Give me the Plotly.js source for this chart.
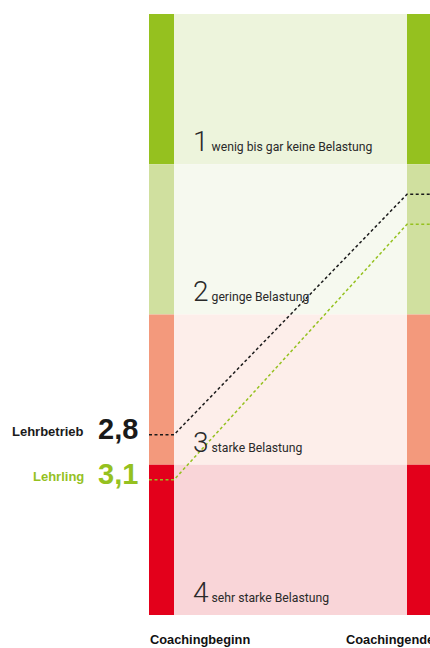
<!DOCTYPE html>
<html>
<head>
<meta charset="utf-8">
<script src="https://cdn.plot.ly/plotly-3.0.1.min.js"></script>
<style>html,body{margin:0;padding:0;background:#fff;}#chart{width:430px;height:648px;}</style>
</head>
<body>
<div id="chart"></div>
<script>
// Data
const stages = ['Coachingbeginn', 'Coachingende'];
const seriesNames = ['Lehrbetrieb', 'Lehrling'];
const startValues = [2.8, 3.1];
const endValues = [1.2, 1.4];
const startLabels = ['2,8', '3,1'];
const levels = [1, 2, 3, 4];
const levelLabels = ['wenig bis gar keine Belastung', 'geringe Belastung', 'starke Belastung', 'sehr starke Belastung'];

// Styles
const seriesColors = ['#1a1a1a', '#95c11f'];
const barColors = ['#95c11f', '#d0e09f', '#f3997c', '#e3001b'];
const fillColors = ['#edf4dc', '#f6f9ef', '#fdeeea', '#f9d5d8'];
const xMin = -25 / 233, xMax = 1 + 23 / 233;
const plotLeft = 149, plotW = 281;
const px = p => (p - plotLeft) / plotW;
const bold = 'Liberation Sans Narrow, Liberation Sans, Arial, sans-serif';

const traces = seriesNames.map((n, i) => ({
  type: 'scatter', mode: 'lines', name: n,
  x: [xMin, 0, 1, xMax],
  y: [startValues[i], startValues[i], endValues[i], endValues[i]],
  line: { color: seriesColors[i], width: 1.5, dash: '3px,2.5px' },
  hoverinfo: 'skip', showlegend: false, cliponaxis: false
}));

const shapes = [];
levels.forEach((lv, i) => {
  const y0 = lv - 1, y1 = lv;
  shapes.push({ type: 'rect', xref: 'x', yref: 'y', x0: 0, x1: 1, y0, y1, fillcolor: fillColors[i], line: { width: 0 }, layer: 'below' });
  shapes.push({ type: 'rect', xref: 'x', yref: 'y', x0: xMin, x1: 0, y0, y1, fillcolor: barColors[i], line: { width: 0 }, layer: 'below' });
  shapes.push({ type: 'rect', xref: 'x', yref: 'y', x0: 1, x1: xMax, y0, y1, fillcolor: barColors[i], line: { width: 0 }, layer: 'below' });
});

const annotations = [];
levels.forEach((lv, i) => {
  annotations.push({
    xref: 'x', yref: 'y', x: 0.072, y: lv - 0.15, xanchor: 'left', yanchor: 'middle', showarrow: false,
    text: '<span style="font-size:28px;font-family:Roboto;font-weight:300">' + lv + '</span> ' + levelLabels[i],
    font: { family: 'Roboto, sans-serif', size: 12.2, color: '#2a2a2a' }
  });
});
seriesNames.forEach((n, i) => {
  annotations.push({
    xref: 'paper', yref: 'y', x: px(86), y: startValues[i] - 0.02, xanchor: 'right', yanchor: 'middle', showarrow: false,
    text: '<b>' + n + '</b>', font: { family: bold, size: 13, color: seriesColors[i] }
  });
  annotations.push({
    xref: 'paper', yref: 'y', x: px(96), y: startValues[i] - 0.04, xanchor: 'left', yanchor: 'middle', showarrow: false,
    text: '<b>' + startLabels[i] + '</b>', font: { family: bold, size: 29, color: seriesColors[i] }
  });
});
const stageX = [px(148), px(344)];
stages.forEach((s, i) => {
  annotations.push({
    xref: 'paper', yref: 'paper', x: stageX[i], y: -24 / 601, xanchor: 'left', yanchor: 'middle', showarrow: false,
    text: '<b>' + s + '</b>', font: { family: bold, size: 12.8, color: '#111' }
  });
});

const layout = {
  width: 430, height: 648,
  margin: { l: plotLeft, r: 0, t: 14, b: 33, pad: 0 },
  paper_bgcolor: '#ffffff', plot_bgcolor: '#ffffff',
  xaxis: { range: [xMin, xMax], visible: false, fixedrange: true },
  yaxis: { range: [4, 0], visible: false, fixedrange: true },
  shapes, annotations, showlegend: false
};

Plotly.newPlot('chart', traces, layout, { staticPlot: true, displayModeBar: false });
</script>
</body>
</html>
